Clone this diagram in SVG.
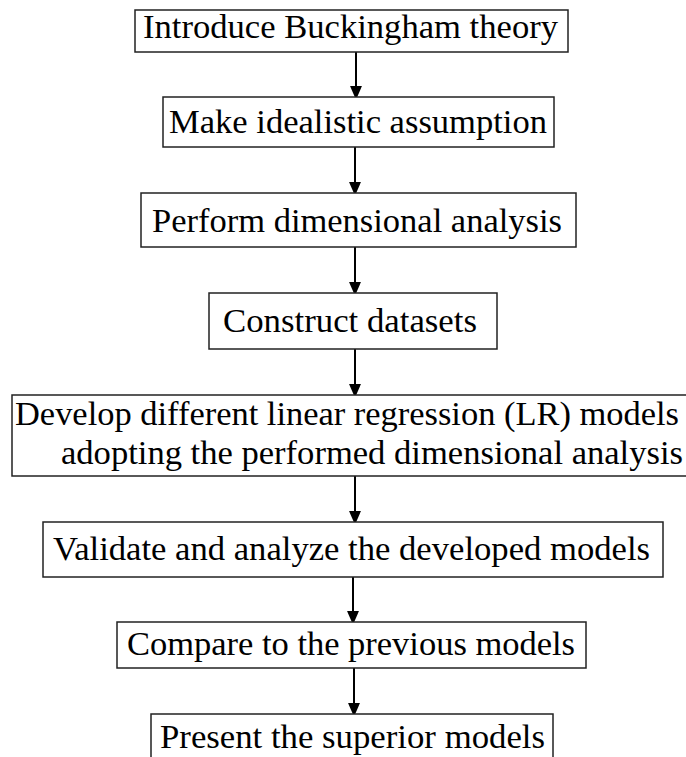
<svg xmlns="http://www.w3.org/2000/svg" width="686" height="757" viewBox="0 0 686 757">
<style>
.box{fill:#fff;stroke:#222;stroke-width:1.5}
text{font-family:'Liberation Serif','Times New Roman',Times,serif;font-size:33px;fill:#000}
.conn{stroke:#000;stroke-width:2;fill:none}
</style>
<defs>
<marker id="ah" markerWidth="14" markerHeight="16" refX="13" refY="7" orient="auto" markerUnits="userSpaceOnUse" viewBox="0 0 16 14">
<path d="M0,0 L16,7 L0,14 Z" fill="#000"/>
</marker>
</defs>
<rect width="686" height="757" fill="#fff"/>
<g id="connectors">
<line class="conn" x1="356" y1="52" x2="356" y2="97" marker-end="url(#ah)"/>
<line class="conn" x1="355" y1="147" x2="355" y2="193" marker-end="url(#ah)"/>
<line class="conn" x1="355" y1="247" x2="355" y2="293" marker-end="url(#ah)"/>
<line class="conn" x1="355" y1="349" x2="355" y2="395" marker-end="url(#ah)"/>
<line class="conn" x1="355" y1="476" x2="355" y2="522" marker-end="url(#ah)"/>
<line class="conn" x1="353" y1="577" x2="353" y2="622" marker-end="url(#ah)"/>
<line class="conn" x1="354" y1="668" x2="354" y2="714" marker-end="url(#ah)"/>
</g>
<g id="n1"><rect class="box" x="135" y="10" width="433" height="42"/><text font-family="Liberation Serif, serif" x="143" y="38" textLength="415" lengthAdjust="spacingAndGlyphs">Introduce Buckingham theory</text></g>
<g id="n2"><rect class="box" x="163" y="97" width="391" height="50"/><text font-family="Liberation Serif, serif" x="169" y="133" textLength="378" lengthAdjust="spacingAndGlyphs">Make idealistic assumption</text></g>
<g id="n3"><rect class="box" x="141" y="193" width="435" height="54"/><text font-family="Liberation Serif, serif" x="152" y="232" textLength="410" lengthAdjust="spacingAndGlyphs">Perform dimensional analysis</text></g>
<g id="n4"><rect class="box" x="209" y="293" width="288" height="56"/><text font-family="Liberation Serif, serif" x="223" y="332" textLength="254" lengthAdjust="spacingAndGlyphs">Construct datasets</text></g>
<g id="n5"><rect class="box" x="12" y="395" width="680" height="81"/><text font-family="Liberation Serif, serif" x="15" y="425" textLength="664" lengthAdjust="spacingAndGlyphs">Develop different linear regression (LR) models</text><text font-family="Liberation Serif, serif" x="61" y="464" textLength="622" lengthAdjust="spacingAndGlyphs">adopting the performed dimensional analysis</text></g>
<g id="n6"><rect class="box" x="43" y="522" width="620" height="55"/><text font-family="Liberation Serif, serif" x="53" y="560" textLength="597" lengthAdjust="spacingAndGlyphs">Validate and analyze the developed models</text></g>
<g id="n7"><rect class="box" x="117" y="622" width="469" height="46"/><text font-family="Liberation Serif, serif" x="127" y="655" textLength="448" lengthAdjust="spacingAndGlyphs">Compare to the previous models</text></g>
<g id="n8"><rect class="box" x="151" y="714" width="402" height="60"/><text font-family="Liberation Serif, serif" x="160" y="748" textLength="385" lengthAdjust="spacingAndGlyphs">Present the superior models</text></g>
</svg>
